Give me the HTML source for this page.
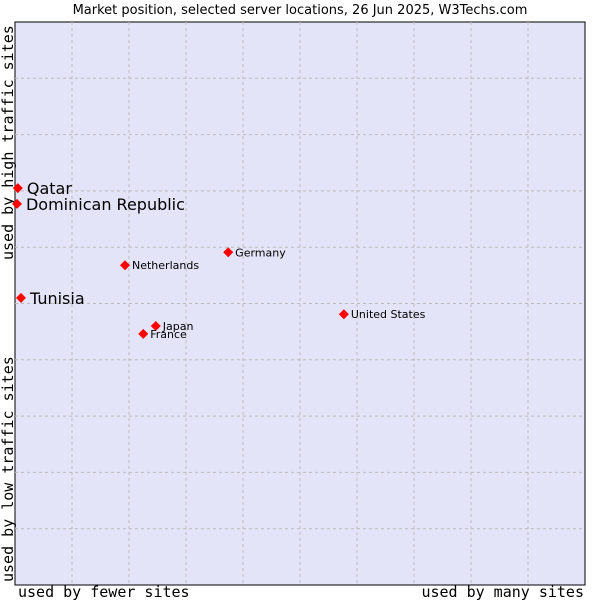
<!DOCTYPE html>
<html><head><meta charset="utf-8"><style>
body{margin:0;background:#fff;}
svg{display:block;}
</style></head><body>
<svg id="chart" width="600" height="600">
<text x="300" y="14" text-anchor="middle" font-family="DejaVu Sans, sans-serif" font-size="13" fill="#000">Market position, selected server locations, 26 Jun 2025, W3Techs.com</text>
<rect x="15" y="22" width="570" height="563" fill="#e3e4f8" stroke="#000" stroke-width="1"/>
<g id="grid"></g>
<text x="18" y="597" font-family="DejaVu Sans Mono, monospace" font-size="15">used by fewer sites</text>
<text x="584" y="597" text-anchor="end" font-family="DejaVu Sans Mono, monospace" font-size="15">used by many sites</text>
<text transform="translate(13,582) rotate(-90)" font-family="DejaVu Sans Mono, monospace" font-size="15">used by low traffic sites</text>
<text transform="translate(13,260) rotate(-90)" font-family="DejaVu Sans Mono, monospace" font-size="15">used by high traffic sites</text>
<g id="points"></g>
</svg>
<script>
const names = ["Qatar","Dominican Republic","Tunisia","Netherlands","Germany","United States","Japan","France"];
const xVals = [0.5,0.35,1.05,19.3,37.4,57.7,24.7,22.5];
const yVals = [70.5,67.7,51.0,56.8,59.1,48.1,46.0,44.6];
const big = [true,true,true,false,false,false,false,false];
const L=15,T=22,W=570,H=563;
const sx=v=>L+v/100*W, sy=v=>T+H-v/100*H;
const NS="http://www.w3.org/2000/svg";
const grid=document.getElementById('grid');
for(let i=1;i<10;i++){
  const v=document.createElementNS(NS,'line');
  v.setAttribute('x1',sx(i*10));v.setAttribute('x2',sx(i*10));v.setAttribute('y1',T);v.setAttribute('y2',T+H);
  v.setAttribute('stroke','#bbb');v.setAttribute('stroke-dasharray','3,3');
  
  
  grid.appendChild(v);
  const h=document.createElementNS(NS,'line');
  h.setAttribute('y1',sy(i*10));h.setAttribute('y2',sy(i*10));h.setAttribute('x1',L);h.setAttribute('x2',L+W);
  h.setAttribute('stroke','#bbb');h.setAttribute('stroke-dasharray','3,3');
  
  
  grid.appendChild(h);
}
const pts=document.getElementById('points');
names.forEach((n,i)=>{
  const x=sx(xVals[i]),y=sy(yVals[i]);
  const d=document.createElementNS(NS,'path');
  d.setAttribute('d',`M${x-5},${y}L${x},${y-5}L${x+5},${y}L${x},${y+5}Z`);
  d.setAttribute('fill','#f00');
  
  
  pts.appendChild(d);
  const t=document.createElementNS(NS,'text');
  t.setAttribute('x',x+(big[i]?9:7));
  t.setAttribute('y',y+(big[i]?6:4));
  t.setAttribute('font-family','DejaVu Sans, sans-serif');
  t.setAttribute('font-size',big[i]?'16':'11');
  t.setAttribute('fill','#000');
  t.textContent=n;
  
  
  pts.appendChild(t);
});
</script>
</body></html>
